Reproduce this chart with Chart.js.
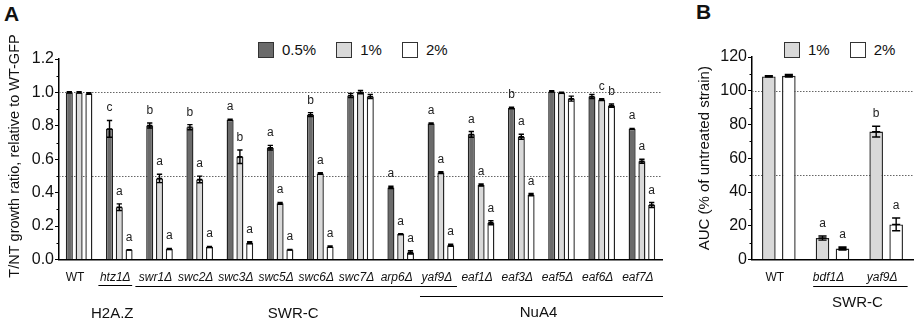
<!DOCTYPE html>
<html lang="en">
<head>
<meta charset="UTF-8">
<title>T/NT growth ratio and AUC</title>
<script src="https://cdn.jsdelivr.net/npm/chart.js"></script>
<style>
  html, body { margin: 0; padding: 0; background: #fff; }
  body { width: 921px; height: 323px; position: relative; overflow: hidden; font-family: 'Liberation Sans', Arial, sans-serif; color: #111; }
  .box { position: absolute; top: 0; height: 323px; }
  .panel-letter { position: absolute; font-weight: bold; font-size: 21px; line-height: 1; }
  .legend { position: absolute; display: flex; align-items: center; font-size: 15px; }
  .legend .sw { width: 14px; height: 14px; border: 1.5px solid #333; margin-right: 8px; }
  .legend .lbl { margin-right: 20px; }
</style>
</head>
<body>
<div class="panel-letter" style="left:4px; top:3px;">A</div>
<div class="panel-letter" style="left:696px; top:1px;">B</div>
<div class="legend" id="legendA" style="left:258px; top:41px;"></div>
<div class="legend" id="legendB" style="left:784px; top:41px;"></div>
<div class="box" style="left:0; width:670px;"><canvas id="chartA"></canvas></div>
<div class="box" style="left:670px; width:251px;"><canvas id="chartB"></canvas></div>

<script>
// ---- panel A data ----
const categoriesA = ['WT', 'htz1Δ', 'swr1Δ', 'swc2Δ', 'swc3Δ', 'swc5Δ', 'swc6Δ', 'swc7Δ', 'arp6Δ', 'yaf9Δ', 'eaf1Δ', 'eaf3Δ', 'eaf5Δ', 'eaf6Δ', 'eaf7Δ'];
const seriesA = ['0.5%', '1%', '2%'];
const valuesA05 = [1.000, 0.782, 0.802, 0.792, 0.836, 0.669, 0.867, 0.982, 0.431, 0.814, 0.749, 0.907, 1.006, 0.976, 0.782];
const valuesA1  = [1.000, 0.313, 0.485, 0.479, 0.615, 0.336, 0.515, 1.002, 0.152, 0.520, 0.446, 0.735, 0.998, 0.957, 0.588];
const valuesA2  = [0.993, 0.059, 0.063, 0.075, 0.100, 0.060, 0.077, 0.976, 0.042, 0.085, 0.220, 0.388, 0.963, 0.921, 0.326];
const errA05 = [0.004, 0.050, 0.015, 0.015, 0.003, 0.014, 0.012, 0.012, 0.007, 0.003, 0.017, 0.005, 0.004, 0.012, 0.003];
const errA1  = [0.004, 0.020, 0.025, 0.020, 0.040, 0.006, 0.005, 0.010, 0.003, 0.005, 0.006, 0.015, 0.003, 0.006, 0.012];
const errA2  = [0.005, 0.000, 0.003, 0.003, 0.006, 0.000, 0.004, 0.012, 0.010, 0.006, 0.012, 0.007, 0.015, 0.010, 0.015];
const lettersA05 = ['', 'c', 'b', 'b', 'a', 'a', 'b', '', 'a', 'a', 'a', 'b', '', '', 'a'];
const lettersA1  = ['', 'a', 'a', 'a', 'b', 'a', 'a', '', 'a', 'a', 'a', 'a', '', 'c', 'a'];
const lettersA2  = ['', 'a', 'a', 'a', 'a', 'a', 'a', '', 'a', 'a', 'a', 'a', '', 'b', 'a'];
const yTicksA = [0, 0.2, 0.4, 0.6, 0.8, 1.0, 1.2];
const refLinesA = [1.0, 0.5];
const groupNamesA = ['H2A.Z', 'SWR-C', 'NuA4'];
const groupFromA = [1, 2, 9];
const groupToA = [1, 9, 14];

// ---- panel B data ----
const categoriesB = ['WT', 'bdf1Δ', 'yaf9Δ'];
const seriesB = ['1%', '2%'];
const valuesB1 = [108.5, 12.7, 75.8];
const valuesB2 = [108.9, 6.5, 20.8];
const errB1 = [0.4, 1.2, 3.2];
const errB2 = [0.8, 0.9, 3.8];
const lettersB1 = ['', 'a', 'b'];
const lettersB2 = ['', 'a', 'a'];
const yTicksB = [0, 20, 40, 60, 80, 100, 120];
const refLinesB = [100, 50];
const groupNamesB = ['SWR-C'];
const groupFromB = [1];
const groupToB = [2];

const FONT = "'Liberation Sans', Arial, sans-serif";
const DARK = '#6b6b6b', LIGHT = '#d9d9d9', WHITE = '#ffffff';

function buildLegend(id, names, colors) {
  const el = document.getElementById(id);
  names.forEach((n, i) => {
    const sw = document.createElement('span');
    sw.className = 'sw';
    sw.style.background = colors[i];
    const t = document.createElement('span');
    t.className = 'lbl';
    t.textContent = n;
    el.appendChild(sw);
    el.appendChild(t);
  });
}
buildLegend('legendA', seriesA, [DARK, LIGHT, WHITE]);
buildLegend('legendB', seriesB, [LIGHT, WHITE]);

// error bars, letters, dotted reference lines, minor ticks, group brackets
const extras = {
  id: 'extras',
  beforeDatasetsDraw(chart, args, o) {
    const {ctx, chartArea} = chart;
    const y = chart.scales.y;
    ctx.save();
    ctx.strokeStyle = '#666';
    ctx.lineWidth = 1;
    ctx.setLineDash([1.5, 1.5]);
    o.refLines.forEach(v => {
      const py = Math.round(y.getPixelForValue(v)) + 0.5;
      ctx.beginPath();
      ctx.moveTo(chartArea.left, py);
      ctx.lineTo(chartArea.right, py);
      ctx.stroke();
    });
    ctx.restore();
  },
  afterDatasetsDraw(chart, args, o) {
    const {ctx} = chart;
    const y = chart.scales.y;
    ctx.save();
    ctx.strokeStyle = '#000';
    ctx.lineWidth = 1.4;
    ctx.fillStyle = '#222';
    ctx.font = '12px ' + FONT;
    ctx.textAlign = 'center';
    ctx.textBaseline = 'alphabetic';
    chart.data.datasets.forEach((ds, di) => {
      chart.getDatasetMeta(di).data.forEach((bar, i) => {
        const v = ds.data[i], e = ds.errors[i];
        const top = y.getPixelForValue(v + e);
        const bot = y.getPixelForValue(v - e);
        const mid = y.getPixelForValue(v);
        const cap = bar.width * o.cap / 2;
        ctx.beginPath();
        ctx.moveTo(bar.x, top); ctx.lineTo(bar.x, bot);
        ctx.moveTo(bar.x - cap, top); ctx.lineTo(bar.x + cap, top);
        ctx.moveTo(bar.x - cap, bot); ctx.lineTo(bar.x + cap, bot);
        ctx.moveTo(bar.x - cap, mid); ctx.lineTo(bar.x + cap, mid);
        ctx.stroke();
        if (ds.letters[i]) ctx.fillText(ds.letters[i], bar.x, top - 9);
      });
    });
    ctx.restore();
  },
  afterDraw(chart, args, o) {
    const {ctx, chartArea} = chart;
    const x = chart.scales.x, y = chart.scales.y;
    ctx.save();
    // minor ticks
    ctx.strokeStyle = '#000';
    ctx.lineWidth = 1;
    for (let i = 0; i < o.ticks.length - 1; i++) {
      const py = Math.round(y.getPixelForValue((o.ticks[i] + o.ticks[i + 1]) / 2)) + 0.5;
      ctx.beginPath();
      ctx.moveTo(chartArea.left - 2.5, py);
      ctx.lineTo(chartArea.left, py);
      ctx.stroke();
    }
    // y title (drawn by hand so it can sit where the original has it)
    if (o.yTitle) {
      ctx.save();
      ctx.translate(o.yTitle.x, o.yTitle.y);
      ctx.rotate(-Math.PI / 2);
      ctx.font = o.yTitle.size + 'px ' + FONT;
      ctx.fillStyle = '#111';
      ctx.textAlign = 'center';
      ctx.textBaseline = 'middle';
      ctx.fillText(o.yTitle.text, 0, 0);
      ctx.restore();
    }
    // group brackets
    const cw = x.getPixelForValue(1) - x.getPixelForValue(0);
    ctx.lineWidth = 1;
    ctx.fillStyle = '#111';
    ctx.font = '15px ' + FONT;
    ctx.textAlign = 'center';
    ctx.textBaseline = 'alphabetic';
    o.groups.names.forEach((name, g) => {
      const s = o.groups.style[g];
      const x0 = x.getPixelForValue(o.groups.from[g]) + s.l * cw;
      const x1 = Math.min(x.getPixelForValue(o.groups.to[g]) + s.r * cw, chartArea.right + 1);
      const ly = s.line + 0.5;
      ctx.beginPath();
      ctx.moveTo(x0, ly); ctx.lineTo(x1, ly);
      ctx.stroke();
      ctx.fillText(name, (x0 + x1) / 2 - 3, s.text);
    });
    ctx.restore();
  }
};

function yAxis(ticks, fmt, width, title) {
  return {
    min: ticks[0], max: ticks[ticks.length - 1],
    afterBuildTicks: s => { s.ticks = ticks.map(v => ({value: v})); },
    afterFit: s => { s.width = width; },
    border: {display: true, color: '#000', width: 1.5},
    grid: {drawOnChartArea: false, color: '#000', tickLength: 4, lineWidth: 1},
    ticks: {color: '#111', padding: 1, font: {family: FONT, size: 16}, callback: v => fmt(v)},
    title: title
  };
}
function xAxis(height) {
  return {
    afterFit: s => { s.height = height; },
    border: {display: true, color: '#000', width: 1.5},
    grid: {display: false},
    ticks: {
      color: '#111', padding: 3, labelOffset: -4, maxRotation: 0, autoSkip: false,
      font: c => ({family: FONT, size: 12, style: c.index === 0 ? 'normal' : 'italic'})
    }
  };
}
function ds(label, data, errors, letters, color) {
  return {label, data, errors, letters, backgroundColor: color, borderColor: '#222', borderWidth: 1.4, borderSkipped: 'bottom'};
}

new Chart(document.getElementById('chartA'), {
  type: 'bar',
  data: {
    labels: categoriesA,
    datasets: [
      ds(seriesA[0], valuesA05, errA05, lettersA05, DARK),
      ds(seriesA[1], valuesA1, errA1, lettersA1, LIGHT),
      ds(seriesA[2], valuesA2, errA2, lettersA2, WHITE)
    ]
  },
  options: {
    responsive: true, maintainAspectRatio: false, animation: false,
    categoryPercentage: 0.73, barPercentage: 0.72,
    layout: {padding: {top: 59, right: 8, left: 0, bottom: 0}},
    scales: {
      x: xAxis(63.5),
      y: yAxis(yTicksA, v => v.toFixed(1), 59, {display: false})
    },
    plugins: {
      legend: {display: false}, tooltip: {enabled: false},
      extras: {
        refLines: refLinesA, ticks: yTicksA, cap: 0.75,
        yTitle: {text: 'T/NT growth ratio, relative to WT-GFP', x: 15, y: 156, size: 14.5},
        groups: {
          names: groupNamesA, from: groupFromA, to: groupToA,
          style: [{l: -0.52, r: 0.32, line: 285, text: 318}, {l: -0.6, r: 0.4, line: 286, text: 318}, {l: -0.52, r: 0.7, line: 296, text: 317}]
        }
      }
    }
  },
  plugins: [extras]
});

new Chart(document.getElementById('chartB'), {
  type: 'bar',
  data: {
    labels: categoriesB,
    datasets: [
      ds(seriesB[0], valuesB1, errB1, lettersB1, LIGHT),
      ds(seriesB[1], valuesB2, errB2, lettersB2, WHITE)
    ]
  },
  options: {
    responsive: true, maintainAspectRatio: false, animation: false,
    categoryPercentage: 0.745, barPercentage: 0.68,
    layout: {padding: {top: 57, right: 8, left: 0, bottom: 0}},
    scales: {
      x: xAxis(63.5),
      y: yAxis(yTicksB, v => String(v), 82, {
        display: true, text: 'AUC (% of untreated strain)', color: '#111',
        font: {family: FONT, size: 15}, padding: {top: 26, bottom: 0}
      })
    },
    plugins: {
      legend: {display: false}, tooltip: {enabled: false},
      extras: {
        refLines: refLinesB, ticks: yTicksB, cap: 0.6,
        groups: {
          names: groupNamesB, from: groupFromB, to: groupToB,
          style: [{l: -0.36, r: 0.4, line: 286, text: 307}]
        }
      }
    }
  },
  plugins: [extras]
});
</script>
</body>
</html>
